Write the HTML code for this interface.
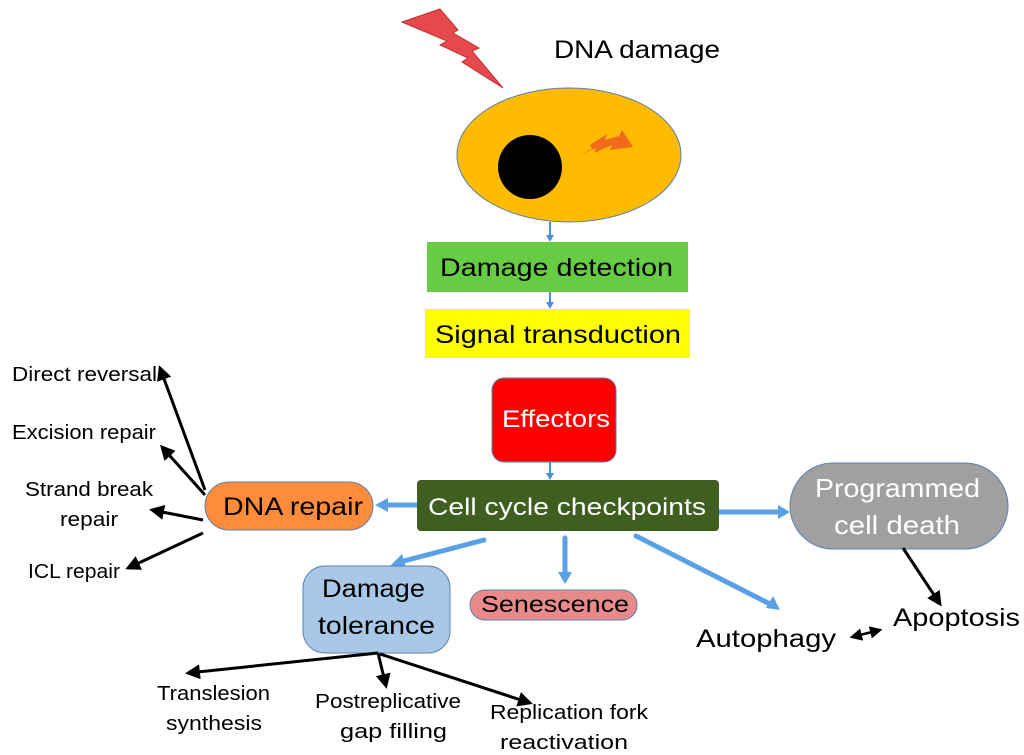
<!DOCTYPE html>
<html><head><meta charset="utf-8"><style>html,body{margin:0;padding:0;background:#fff}svg{display:block}text{font-family:"Liberation Sans",sans-serif}</style></head>
<body>
<svg width="1024" height="755" viewBox="0 0 1024 755" xmlns="http://www.w3.org/2000/svg">
<defs>
<marker id="ab" viewBox="0 0 10 10" refX="8" refY="5" markerWidth="5" markerHeight="5" orient="auto-start-reverse"><path d="M0,0L10,5L0,10z" fill="#000"/></marker>
</defs>
<polygon points="402,22 440,9 458,30 453,33 479,48 472,51 503,88 462,62 468,58 440,45 447,41" fill="#e5484d" stroke="#c03030" stroke-width="1"/>
<text x="554" y="58" font-size="25" textLength="166" lengthAdjust="spacingAndGlyphs">DNA damage</text>
<ellipse cx="569" cy="155" rx="112" ry="67" fill="#FFBB00" stroke="#5a80b0" stroke-width="1"/>
<circle cx="530" cy="167" r="32" fill="#000"/>
<polygon points="573,158 596,148 594,153 612,145 610,150 633,147 622,130 619,136 605,140 607,134 590,145 592,149" fill="#F26A1B"/>
<g stroke="#4a90d9" stroke-width="2" fill="none">
<line x1="550" y1="222" x2="550" y2="236"/>
<line x1="550" y1="292" x2="550" y2="303"/>
<line x1="550" y1="462" x2="550" y2="474"/>
</g>
<g fill="#4a90d9">
<polygon points="550,242 546,235 554,235"/>
<polygon points="550,309 546,302 554,302"/>
<polygon points="550,480 546,473 554,473"/>
</g>
<rect x="427" y="242" width="261" height="50" fill="#66CC44"/>
<text x="440" y="276" font-size="25" textLength="233" lengthAdjust="spacingAndGlyphs">Damage detection</text>
<rect x="425" y="309" width="265" height="49" fill="#FFFF00"/>
<text x="435" y="343" font-size="25" textLength="246" lengthAdjust="spacingAndGlyphs">Signal transduction</text>
<rect x="492" y="378" width="124" height="84" rx="12" fill="#FF0000" stroke="#5a80b0"/>
<text x="502" y="427" font-size="24" fill="#fff" textLength="108" lengthAdjust="spacingAndGlyphs">Effectors</text>
<g stroke="#5aa0e6" stroke-width="5" fill="none" stroke-linecap="round">
<line x1="417" y1="505" x2="385" y2="505"/>
<line x1="719" y1="512" x2="782" y2="512"/>
<line x1="484" y1="540" x2="400" y2="562"/>
<line x1="565" y1="538" x2="565" y2="576"/>
<line x1="636" y1="536" x2="770" y2="604"/>
</g>
<g fill="#5aa0e6">
<polygon points="375,505 388,498 388,512"/>
<polygon points="790,512 778,505 778,519"/>
<polygon points="390,566 402,554 406,568"/>
<polygon points="565,584 558,572 572,572"/>
<polygon points="780,610 766,608 773,596"/>
</g>
<rect x="417" y="480" width="302" height="51" rx="4" fill="#3E5F1F"/>
<text x="428" y="515" font-size="24" fill="#fff" textLength="278" lengthAdjust="spacingAndGlyphs">Cell cycle checkpoints</text>
<rect x="205" y="482" width="168" height="48" rx="24" fill="#FF8C3A" stroke="#5a80b0"/>
<text x="223" y="515" font-size="25" textLength="140" lengthAdjust="spacingAndGlyphs">DNA repair</text>
<rect x="790" y="463" width="218" height="86" rx="43" fill="#A0A0A0" stroke="#5a80b0"/>
<text x="815" y="497" font-size="26" fill="#fff" textLength="165" lengthAdjust="spacingAndGlyphs">Programmed</text>
<text x="834" y="534" font-size="26" fill="#fff" textLength="126" lengthAdjust="spacingAndGlyphs">cell death</text>
<rect x="303" y="566" width="147" height="87" rx="22" fill="#A9C8E8" stroke="#5a80b0"/>
<text x="322" y="597" font-size="25" textLength="103" lengthAdjust="spacingAndGlyphs">Damage</text>
<text x="318" y="634" font-size="25" textLength="117" lengthAdjust="spacingAndGlyphs">tolerance</text>
<rect x="470" y="590" width="167" height="30" rx="15" fill="#E98A8A" stroke="#5a80b0"/>
<text x="481" y="612" font-size="23" textLength="148" lengthAdjust="spacingAndGlyphs">Senescence</text>
<text x="696" y="647" font-size="25" textLength="140" lengthAdjust="spacingAndGlyphs">Autophagy</text>
<text x="893" y="626" font-size="25" textLength="127" lengthAdjust="spacingAndGlyphs">Apoptosis</text>
<g stroke="#000" stroke-width="3" fill="none">
<line x1="205" y1="490" x2="160" y2="368" marker-end="url(#ab)"/>
<line x1="205" y1="495" x2="162" y2="447" marker-end="url(#ab)"/>
<line x1="203" y1="520" x2="152" y2="510" marker-end="url(#ab)"/>
<line x1="203" y1="533" x2="128" y2="568" marker-end="url(#ab)"/>
<line x1="378" y1="653" x2="188" y2="673" marker-end="url(#ab)"/>
<line x1="378" y1="653" x2="386" y2="686" marker-end="url(#ab)"/>
<line x1="380" y1="654" x2="530" y2="703" marker-end="url(#ab)"/>
<line x1="903" y1="548" x2="940" y2="604" marker-end="url(#ab)"/>
<line x1="852" y1="637" x2="880" y2="630" marker-start="url(#ab)" marker-end="url(#ab)" stroke-width="2.5"/>
</g>
<g font-size="20">
<text x="12" y="381" textLength="145" lengthAdjust="spacingAndGlyphs">Direct reversal</text>
<text x="12" y="439" textLength="144" lengthAdjust="spacingAndGlyphs">Excision repair</text>
<text x="25" y="496" textLength="128" lengthAdjust="spacingAndGlyphs">Strand break</text>
<text x="60" y="526" textLength="58" lengthAdjust="spacingAndGlyphs">repair</text>
<text x="28" y="578" textLength="92" lengthAdjust="spacingAndGlyphs">ICL repair</text>
</g>
<g font-size="20">
<text x="157" y="700" textLength="113" lengthAdjust="spacingAndGlyphs">Translesion</text>
<text x="166" y="730" textLength="96" lengthAdjust="spacingAndGlyphs">synthesis</text>
<text x="315" y="708" textLength="146" lengthAdjust="spacingAndGlyphs">Postreplicative</text>
<text x="340" y="738" textLength="107" lengthAdjust="spacingAndGlyphs">gap filling</text>
<text x="490" y="719" textLength="158" lengthAdjust="spacingAndGlyphs">Replication fork</text>
<text x="500" y="749" textLength="128" lengthAdjust="spacingAndGlyphs">reactivation</text>
</g>
</svg>
</body></html>
